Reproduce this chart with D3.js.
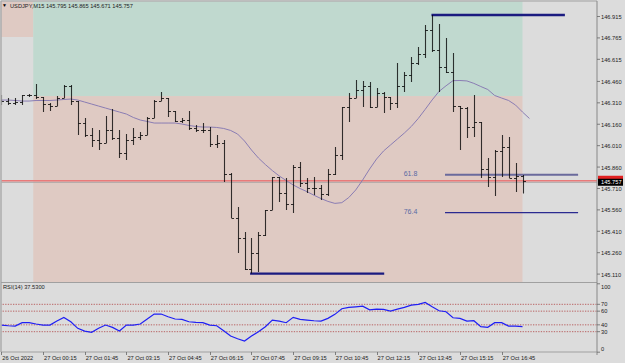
<!DOCTYPE html>
<html><head><meta charset="utf-8">
<script src="https://cdn.jsdelivr.net/npm/d3@7"></script>
<style>
html,body{margin:0;padding:0;background:#dcdcdc;overflow:hidden}
svg{display:block}
text{font-family:"Liberation Sans",Arial,sans-serif;font-size:5.7px;fill:#222}
</style>
</head><body><svg id="c" width="625" height="363"></svg>
<script>
// ---------------- data ----------------
const titleText = "USDJPY,M15  145.795 145.865 145.671 145.757";
const rsiTitle = "RSI(14) 37.5300";
const firstBarTime = "2022-10-26T22:45";
const lastBarTime = "2022-10-27T17:30";
const currentPrice = 145.757;
const currentPriceLabel = "145.757";

const openP = [146.326,146.319,146.305,146.312,146.361,146.361,146.347,146.298,146.284,146.340,
  146.424,146.319,146.165,146.081,146.046,146.025,146.116,146.060,145.955,146.046,
  146.067,146.081,146.200,146.319,146.340,146.249,146.179,146.186,146.130,146.116,
  146.116,146.018,146.025,145.808,145.499,145.359,145.142,145.254,145.380,145.555,
  145.787,145.675,145.598,145.857,145.745,145.710,145.710,145.668,145.808,145.941,
  146.277,146.340,146.396,146.424,146.277,146.375,146.347,146.305,146.424,146.502,
  146.586,146.649,146.817,146.677,146.558,146.523,146.284,146.270,146.137,146.172,
  145.843,145.787,145.969,145.997,145.780,145.795];
const highP = [146.361,146.340,146.340,146.361,146.368,146.439,146.347,146.305,146.354,146.431,
  146.431,146.319,146.200,146.130,146.116,146.214,146.263,146.116,146.088,146.130,
  146.102,146.207,146.326,146.382,146.340,146.249,146.200,146.249,146.151,146.165,
  146.137,146.081,146.046,145.815,145.577,145.401,145.359,145.401,145.555,145.787,
  145.787,145.780,145.871,145.892,145.780,145.787,145.731,145.843,145.997,146.277,
  146.375,146.467,146.460,146.453,146.410,146.382,146.347,146.586,146.523,146.628,
  146.698,146.852,146.922,146.859,146.761,146.656,146.284,146.277,146.361,146.172,
  145.920,145.976,146.081,146.067,145.885,145.801];
const lowP = [146.291,146.291,146.291,146.291,146.347,146.333,146.242,146.249,146.284,146.340,
  146.291,146.081,146.067,145.997,145.976,146.025,146.046,145.920,145.906,146.011,
  146.046,146.081,146.200,146.319,146.207,146.172,146.165,146.116,146.102,146.095,
  145.997,145.990,145.752,145.499,145.254,145.135,145.110,145.121,145.373,145.555,
  145.612,145.555,145.535,145.717,145.675,145.661,145.626,145.654,145.801,145.906,
  146.172,146.340,146.277,146.270,146.277,146.235,146.256,146.270,146.382,146.453,
  146.572,146.621,146.663,146.382,146.516,146.242,145.976,146.060,146.067,145.780,
  145.717,145.654,145.787,145.780,145.682,145.671];
const closeP = [146.319,146.305,146.312,146.361,146.361,146.347,146.298,146.284,146.340,146.424,
  146.319,146.165,146.081,146.046,146.025,146.116,146.060,145.955,146.046,146.067,
  146.081,146.200,146.319,146.340,146.249,146.179,146.186,146.130,146.116,146.116,
  146.018,146.025,145.808,145.499,145.359,145.142,145.254,145.380,145.555,145.787,
  145.675,145.598,145.857,145.745,145.710,145.710,145.668,145.808,145.941,146.277,
  146.340,146.396,146.424,146.277,146.375,146.347,146.305,146.424,146.502,146.586,
  146.649,146.817,146.677,146.558,146.523,146.284,146.270,146.137,146.172,145.843,
  145.787,145.969,145.997,145.780,145.794,145.757];

// moving average (last value is one bar ahead)
const maValues = [146.326,146.326,146.323,146.319,146.319,146.323,146.323,146.323,146.326,146.330,
  146.333,146.326,146.312,146.298,146.284,146.270,146.256,146.242,146.228,146.204,
  146.186,146.176,146.165,146.165,146.165,146.165,146.158,146.148,146.141,146.137,
  146.137,146.134,146.127,146.113,146.088,146.039,145.976,145.920,145.874,145.832,
  145.794,145.762,145.731,145.706,145.684,145.659,145.636,145.616,145.602,145.607,
  145.643,145.696,145.766,145.843,145.913,145.969,146.011,146.053,146.095,146.141,
  146.197,146.261,146.327,146.387,146.426,146.462,146.463,146.460,146.443,146.421,
  146.400,146.358,146.340,146.323,146.291,146.242,146.197];

const rsiValues = [39.7,38.7,38.2,43.1,43.1,41.2,39.7,39.7,45.5,50.9,
  44.5,34.9,30.9,29.0,34.9,39.7,36.3,30.9,39.7,39.7,
  41.2,48.5,55.8,55.8,51.9,48.5,48.0,44.5,43.6,43.1,
  39.7,38.7,31.4,23.6,19.7,16.4,23.6,30.0,37.3,47.0,
  45.5,43.1,50.9,48.0,47.0,46.0,45.5,49.5,55.3,63.5,
  65.5,66.4,67.4,62.0,63.0,62.6,60.1,63.0,65.5,68.9,
  69.9,72.8,66.4,60.6,59.2,50.4,49.5,45.5,46.0,37.3,
  36.3,43.1,43.1,38.2,38.2,37.53];

const priceTicks = [146.915,146.765,146.615,146.460,146.310,146.160,146.010,145.860,145.710,145.560,145.410,145.260,145.110];
const timeTicks = ["2022-10-26T22:45","2022-10-27T00:15","2022-10-27T01:45","2022-10-27T03:15","2022-10-27T04:45",
  "2022-10-27T06:15","2022-10-27T07:45","2022-10-27T09:15","2022-10-27T10:45","2022-10-27T12:15",
  "2022-10-27T13:45","2022-10-27T15:15","2022-10-27T16:45"];
const timeTickLabels = ["26 Oct 2022","27 Oct 00:15","27 Oct 01:45","27 Oct 03:15","27 Oct 04:45",
  "27 Oct 06:15","27 Oct 07:45","27 Oct 09:15","27 Oct 10:45","27 Oct 12:15",
  "27 Oct 13:45","27 Oct 15:15","27 Oct 16:45"];
const rsiTicks = [100,70,60,40,30,0];
const rsiLevels = [70,60,40,30];

const swingHigh = 146.922, swingLow = 145.110;
const fibRatios = [61.8, 76.4];
const zoneSplit = 146.354, zoneCorner = 146.768;

// ---------------- drawing ----------------
const svg = d3.select("#c");
const parse = d3.timeParse("%Y-%m-%dT%H:%M");
const t0 = parse(firstBarTime), t1 = parse(lastBarTime);
const x = d3.scaleTime().domain([t0, t1]).range([1.3, 522.5]);
const xb = i => x(new Date(t0.getTime() + i * 15 * 60000));
const y = d3.scaleLinear().domain([145.110, 146.915]).range([273.6, 16]);
const yr = d3.scaleLinear().domain([0, 100]).range([352.2, 283.8]);

const mainTop = 1.5, mainBot = 282, axisX = 597, rsiTop = 283, rsiBot = 352;

svg.append("defs").append("clipPath").attr("id","clipMain")
  .append("rect").attr("x",1.5).attr("y",mainTop).attr("width",axisX-1.5).attr("height",mainBot-mainTop);
svg.select("defs").append("clipPath").attr("id","clipRsi")
  .append("rect").attr("x",1.5).attr("y",rsiTop).attr("width",axisX-1.5).attr("height",rsiBot-rsiTop);

const main = svg.append("g").attr("clip-path","url(#clipMain)");

// zones
main.append("rect").attr("x",0).attr("y",y(147.3)).attr("width",xb(4.6)).attr("height",y(zoneCorner)-y(147.3)).attr("fill","#dfcac3");
main.append("rect").attr("x",xb(4.6)).attr("y",y(147.3)).attr("width",xb(75)-xb(4.6)).attr("height",y(zoneSplit)-y(147.3)).attr("fill","#c0d9cf");
main.append("rect").attr("x",xb(4.6)).attr("y",y(zoneSplit)).attr("width",xb(75)-xb(4.6)).attr("height",y(144.9)-y(zoneSplit)).attr("fill","#dfcac3");

// current price lines
main.append("line").attr("x1",0).attr("x2",axisX).attr("y1",y(currentPrice)+1).attr("y2",y(currentPrice)+1)
  .attr("stroke","#a9a4a4").attr("stroke-width",1);
main.append("line").attr("x1",0).attr("x2",axisX).attr("y1",y(currentPrice)-0.5).attr("y2",y(currentPrice)-0.5)
  .attr("stroke","#e97a7a").attr("stroke-width",1.5);

// swing lines
const hLines = [
  {p: swingHigh, from: 61.9, to: 81.1, c: "#1b1b80", w: 2.4},
  {p: swingLow, from: 35.8, to: 55.1, c: "#1b1b80", w: 2.4}
];
fibRatios.forEach((r, k) => hLines.push({p: swingHigh - r/100*(swingHigh - swingLow), from: 63.85, to: 83,
  c: k === 0 ? "#6a6a9c" : "#2a2a90", w: k === 0 ? 2 : 1.3}));
main.selectAll("line.h").data(hLines).join("line").attr("class","h")
  .attr("x1",d=>xb(d.from)).attr("x2",d=>xb(d.to)).attr("y1",d=>y(d.p)).attr("y2",d=>y(d.p))
  .attr("stroke",d=>d.c).attr("stroke-width",d=>d.w);
main.selectAll("text.fib").data(fibRatios).join("text").attr("class","fib")
  .attr("x",xb(57.9)).attr("y",r=>y(swingHigh - r/100*(swingHigh - swingLow))+1.5)
  .style("font-size","7px").style("fill","#5b6aa3").text(r=>r.toFixed(1));

// MA
main.append("path").datum(maValues)
  .attr("d", d3.line().x((d,i)=>xb(i)).y(d=>y(d)))
  .attr("fill","none").attr("stroke","#8a7db3").attr("stroke-width",1);

// OHLC bars
const bars = main.append("g").attr("stroke","#000").attr("stroke-opacity",0.78).attr("stroke-width",1.1);
const idx = d3.range(openP.length);
const bx = i => Math.round(xb(i)) + 0.5;
bars.selectAll("line.v").data(idx).join("line").attr("class","v")
  .attr("x1",bx).attr("x2",bx).attr("y1",i=>y(highP[i])).attr("y2",i=>y(lowP[i]));
bars.selectAll("line.o").data(idx).join("line").attr("class","o")
  .attr("x1",i=>bx(i)-2.5).attr("x2",bx).attr("y1",i=>Math.round(y(openP[i]))+0.5).attr("y2",i=>Math.round(y(openP[i]))+0.5);
bars.selectAll("line.c").data(idx).join("line").attr("class","c")
  .attr("x1",bx).attr("x2",i=>bx(i)+2.5).attr("y1",i=>Math.round(y(closeP[i]))+0.5).attr("y2",i=>Math.round(y(closeP[i]))+0.5);

// title
svg.append("text").attr("x",2).attr("y",7.3).style("font-size","5px").style("fill","#000").text("▼");
svg.append("text").attr("x",10).attr("y",7.5).text(titleText);

// RSI panel
const rsi = svg.append("g").attr("clip-path","url(#clipRsi)");
rsi.selectAll("line.lvl").data(rsiLevels).join("line").attr("class","lvl")
  .attr("x1",0).attr("x2",axisX).attr("y1",d=>yr(d)).attr("y2",d=>yr(d))
  .attr("stroke","#b55656").attr("stroke-width",0.9).attr("stroke-dasharray","1.3,1.3");
rsi.append("path").datum(rsiValues)
  .attr("d", d3.line().x((d,i)=>xb(i)).y(d=>yr(d)))
  .attr("fill","none").attr("stroke","#1f1ff5").attr("stroke-width",1.2);
svg.append("text").attr("x",3).attr("y",289.3).text(rsiTitle);

// frames
svg.append("line").attr("x1",1).attr("x2",axisX).attr("y1",1).attr("y2",1).attr("stroke","#a0a0a0").attr("stroke-width",1.2);
svg.append("line").attr("x1",1).attr("x2",1).attr("y1",1).attr("y2",rsiBot).attr("stroke","#a0a0a0").attr("stroke-width",1.2);
svg.append("line").attr("x1",1).attr("x2",axisX).attr("y1",282.5).attr("y2",282.5).attr("stroke","#a0a0a0").attr("stroke-width",1.2);
svg.append("line").attr("x1",1).attr("x2",axisX).attr("y1",rsiBot).attr("y2",rsiBot).attr("stroke","#a0a0a0").attr("stroke-width",1);
svg.append("line").attr("x1",axisX).attr("x2",axisX).attr("y1",1).attr("y2",rsiBot+3).attr("stroke","#888").attr("stroke-width",1);

// price axis
const pAxis = svg.append("g");
pAxis.selectAll("line").data(priceTicks).join("line")
  .attr("x1",axisX).attr("x2",axisX+3).attr("y1",d=>y(d)+0.5).attr("y2",d=>y(d)+0.5).attr("stroke","#666").attr("stroke-width",0.8);
pAxis.selectAll("text").data(priceTicks).join("text")
  .attr("x",axisX+4).attr("y",d=>y(d)+3).text(d=>d.toFixed(3));

// current price label
svg.append("rect").attr("x",axisX+1).attr("y",y(currentPrice)-5.5).attr("width",25).attr("height",5).attr("fill","#e02020");
svg.append("rect").attr("x",axisX+1).attr("y",y(currentPrice)-2.5).attr("width",25).attr("height",7).attr("fill","#000");
svg.append("text").attr("x",axisX+4).attr("y",y(currentPrice)+3.2).style("fill","#fff").text(currentPriceLabel);

// RSI axis
const rAxis = svg.append("g");
rAxis.selectAll("line").data(rsiTicks).join("line")
  .attr("x1",axisX).attr("x2",axisX+3).attr("y1",d=>yr(d)).attr("y2",d=>yr(d)).attr("stroke","#666").attr("stroke-width",0.8);
rAxis.selectAll("text").data(rsiTicks).join("text")
  .attr("x",axisX+4).attr("y",d=>yr(d)+2 + (d===100?3:0) + (d===0?-3:0)).text(d=>d);

// time axis
const tAxis = svg.append("g");
const tt = timeTicks.map(parse);
tAxis.selectAll("line").data(tt).join("line")
  .attr("x1",d=>Math.round(x(d))+0.5).attr("x2",d=>Math.round(x(d))+0.5).attr("y1",rsiBot).attr("y2",rsiBot+3)
  .attr("stroke","#666").attr("stroke-width",0.8);
tAxis.selectAll("text").data(tt).join("text")
  .attr("x",d=>x(d)+1).attr("y",359.5).text((d,i)=>timeTickLabels[i]);
</script>
</body></html>
